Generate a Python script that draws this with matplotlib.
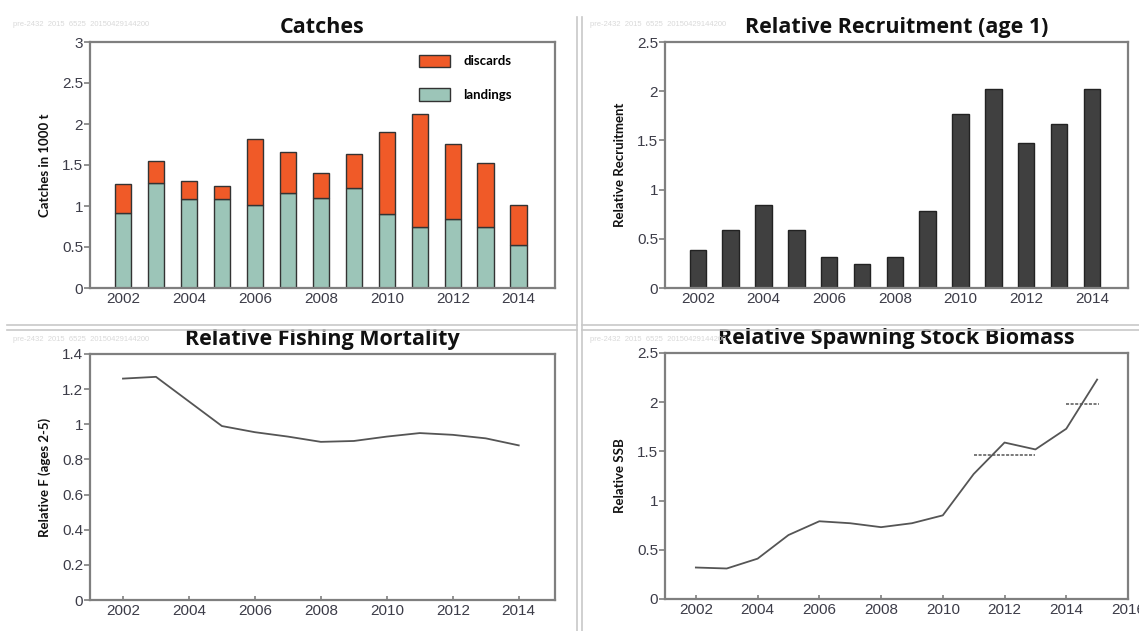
import numpy as np
import matplotlib
matplotlib.use("Agg")
import matplotlib.pyplot as plt
from matplotlib.patches import Patch
from matplotlib.lines import Line2D

# data
years = np.arange(2002, 2015)
landings = [0.92, 1.28, 1.08, 1.08, 1.01, 1.16, 1.10, 1.22, 0.90, 0.75, 0.84, 0.74, 0.53]
total_catch = [1.27, 1.55, 1.30, 1.25, 1.82, 1.66, 1.40, 1.64, 1.90, 2.12, 1.76, 1.52, 1.01]
discards = [t - l for t, l in zip(total_catch, landings)]

recruitment = [0.39, 0.59, 0.84, 0.59, 0.32, 0.24, 0.32, 0.78, 1.77, 2.02, 1.47, 1.67, 2.02]

fishing_f = [1.26, 1.27, 1.13, 0.99, 0.955, 0.93, 0.90, 0.905, 0.93, 0.95, 0.94, 0.92, 0.88]

ssb_years = np.arange(2002, 2016)
ssb = [0.32, 0.31, 0.41, 0.65, 0.79, 0.77, 0.73, 0.77, 0.85, 1.27, 1.59, 1.52, 1.73, 2.23]
ssb_ref1_years = [2011, 2013]
ssb_ref1 = [1.46, 1.46]
ssb_ref2_years = [2014, 2015.05]
ssb_ref2 = [1.98, 1.98]

watermark = "pre-2432  2015  6525  20150429144200"

#%%
W, H = 1139, 631
fig = plt.figure(figsize=(W / 100, H / 100), dpi=100)

spine_col = "#7f7f7f"
tick_col = "#3c3c48"
title_font = ["Open Sans", "DejaVu Sans"]
label_font = ["Lato", "DejaVu Sans"]
tick_font = ["Liberation Sans", "DejaVu Sans"]


def px_axes(left, top, right, bottom):
    return fig.add_axes([left / W, 1 - bottom / H, (right - left) / W, (bottom - top) / H])


def style(ax, title, ylabel, ylim, yticks, xlim, xticks, ylabels=None):
    ax.set_xlim(*xlim)
    ax.set_ylim(*ylim)
    ax.set_xticks(xticks)
    ax.set_yticks(yticks)
    ax.set_yticklabels(ylabels or [f"{v:g}" for v in yticks])
    for s in ax.spines.values():
        s.set_color(spine_col)
        s.set_linewidth(1.6)
    ax.tick_params(axis="y", direction="out", length=4, width=1.2, color=spine_col,
                   labelsize=11, labelcolor=tick_col, pad=1)
    ax.tick_params(axis="x", direction="in", length=3, width=1.2, color=spine_col,
                   labelsize=11, labelcolor=tick_col, pad=3)
    for lab in ax.get_xticklabels() + ax.get_yticklabels():
        lab.set_family(tick_font)
    ax.text(0.5, 1 + 9 / 246, title, transform=ax.transAxes, ha="center", va="baseline",
            fontsize=15.5, fontweight="bold", family=title_font, color="#111111")
    ax.set_ylabel(ylabel, fontsize=9.5, fontweight="bold", family=label_font,
                  color="#111111", labelpad=8)


# Catches
ax1 = px_axes(90, 42, 555, 288)
ax1.bar(years, landings, width=0.5, color="#9cc5b8", edgecolor="#333333", linewidth=1, zorder=2)
ax1.bar(years, discards, bottom=landings, width=0.5, color="#f05a28", edgecolor="#333333",
        linewidth=1, zorder=2)
style(ax1, "Catches", "Catches in 1000 t", (0, 3), np.arange(0, 3.01, 0.5),
      (2001, 2015.1), np.arange(2002, 2015, 2))
handles = [Patch(facecolor="#f05a28", edgecolor="#333333"),
           Patch(facecolor="#9cc5b8", edgecolor="#333333")]
leg = ax1.legend(handles, ["discards", "landings"], loc="upper left", bbox_to_anchor=(0.683, 0.997),
                 frameon=False, handlelength=2.3, handleheight=1.1, labelspacing=1.55,
                 handletextpad=1.0, prop={"family": label_font, "weight": "bold", "size": 9.5})

# Recruitment
ax2 = px_axes(665, 42, 1128, 288)
ax2.bar(years, recruitment, width=0.5, color="#404040", edgecolor="#222222", linewidth=1, zorder=2)
style(ax2, "Relative Recruitment (age 1)", "Relative Recruitment", (0, 2.5),
      np.arange(0, 2.51, 0.5), (2001, 2015.1), np.arange(2002, 2015, 2))

# Fishing mortality
ax3 = px_axes(90, 354, 555, 600)
ax3.plot(years, fishing_f, color="#555555", linewidth=1.3)
f_ticks = np.arange(0, 1.41, 0.2)
style(ax3, "Relative Fishing Mortality", "Relative F (ages 2-5)", (0, 1.4), f_ticks,
      (2001, 2015.1), np.arange(2002, 2015, 2),
      ylabels=["0", "0.2", "0.4", "0.6", "0.8", "1", "1.2", "1.4"])

# SSB
ax4 = px_axes(665, 353, 1128, 599)
ax4.plot(ssb_years, ssb, color="#555555", linewidth=1.3)
ax4.plot(ssb_ref1_years, ssb_ref1, color="#555555", linewidth=1.1, linestyle=(0, (2, 1)))
ax4.plot(ssb_ref2_years, ssb_ref2, color="#555555", linewidth=1.1, linestyle=(0, (2, 1)))
style(ax4, "Relative Spawning Stock Biomass", "Relative SSB", (0, 2.5),
      np.arange(0, 2.51, 0.5), (2001, 2016), np.arange(2002, 2017, 2))

# faint watermark strings
for x, y in [(13, 25), (590, 25), (13, 339), (590, 339)]:
    fig.text(x / W, 1 - y / H, watermark, fontsize=5.5, color="#d9d9d9", family=tick_font,
             va="center")

# panel separator lines
sep = "#c8c8c8"
for x in (576.5, 581.5):
    fig.add_artist(Line2D([x / W, x / W], [1 - 17 / H, 0], color=sep, linewidth=1.2))
for y in (325, 329.5):
    fig.add_artist(Line2D([7 / W, 576.5 / W], [1 - y / H, 1 - y / H], color=sep, linewidth=1.2))
    fig.add_artist(Line2D([581.5 / W, 1], [1 - y / H, 1 - y / H], color=sep, linewidth=1.2))

fig.savefig("out.png", dpi=100)
